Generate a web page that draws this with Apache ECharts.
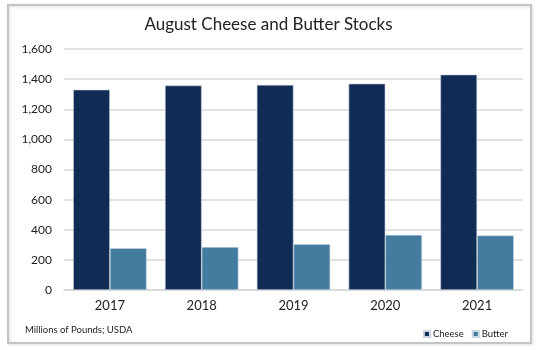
<!DOCTYPE html>
<html><head><meta charset="utf-8">
<script src="https://cdn.jsdelivr.net/npm/echarts@6/dist/echarts.min.js"></script>
<style>html,body{margin:0;padding:0;background:#fff}#c{width:537px;height:350px}</style>
</head><body><div id="c"></div>
<script>
const categories = ['2017','2018','2019','2020','2021'];
const cheese = [1330, 1358, 1362, 1370, 1430];
const butter = [278, 285, 304, 366, 362];
const yTicks = [0, 200, 400, 600, 800, 1000, 1200, 1400, 1600];

const chart = echarts.init(document.getElementById('c'), null, {renderer:'canvas'});
const font = 'Lato, "Open Sans", sans-serif';
chart.setOption({
  animation: false,
  textStyle: {fontFamily: font},
  graphic: [{
    type: 'rect', shape: {x: 8, y: 5, width: 523, height: 338},
    style: {fill: 'none', stroke: '#c4c4c4', lineWidth: 2, shadowColor: 'rgba(0,0,0,0.15)', shadowBlur: 3, shadowOffsetX: 1, shadowOffsetY: 1}
  }, {
    type: 'text', left: 25, top: 325,
    style: {text: 'Millions of Pounds; USDA', font: '9.5px ' + font, fill: '#222'}
  }],
  title: {text: 'August Cheese and Butter Stocks', left: 'center', top: 11,
    textStyle: {fontFamily: font, fontWeight: 'normal', fontSize: 17, color: '#222'}},
  legend: {right: 24, top: 324, itemWidth: 6, itemHeight: 6, itemGap: 8, icon: 'rect',
    textStyle: {fontFamily: font, fontSize: 9.5, color: '#222', padding: [0,0,0,-2]},
    data: ['Cheese', 'Butter']},
  grid: {left: 64, right: 14, top: 49, bottom: 60},
  xAxis: {type: 'category', data: categories,
    axisLine: {lineStyle: {color: '#d9d9d9', width: 1.5}}, axisTick: {show: false},
    axisLabel: {color: '#222', fontSize: 13, margin: 9, fontFamily: font}},
  yAxis: {type: 'value', min: yTicks[0], max: yTicks[yTicks.length-1], interval: 200,
    axisLine: {show: false}, axisTick: {show: false},
    splitLine: {lineStyle: {color: '#d9d9d9', width: 1.5}},
    axisLabel: {color: '#222', fontSize: 12, margin: 12, fontFamily: font,
      formatter: v => v.toLocaleString('en-US')}},
  series: [
    {name: 'Cheese', type: 'bar', data: cheese, barGap: '0%', barCategoryGap: '20%',
      itemStyle: {color: '#112c54', borderColor: '#c9d2de', borderWidth: 0.6}},
    {name: 'Butter', type: 'bar', data: butter,
      itemStyle: {color: '#447ca0', borderColor: '#c9d6e0', borderWidth: 0.6}}
  ]
});
</script></body></html>
